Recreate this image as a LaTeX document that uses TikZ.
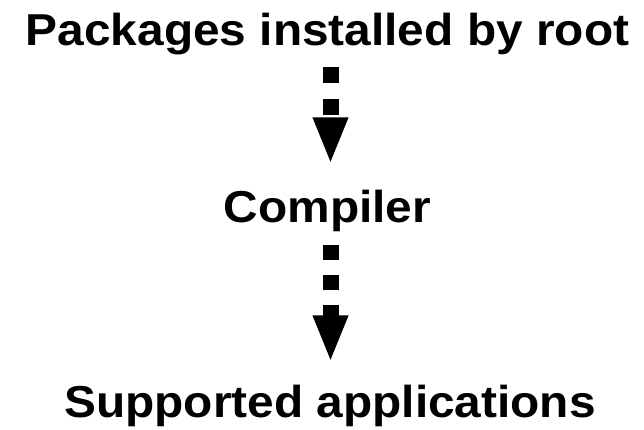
\documentclass[tikz,border=0pt]{standalone}
\usepackage{fontspec}
\setmainfont[FakeStretch=1.07]{Liberation Sans}
\usetikzlibrary{arrows.meta}

\begin{document}
\begin{tikzpicture}[x=1pt,y=1pt,
        label/.style={font=\fontsize{44.7}{50}\selectfont\bfseries, inner sep=0pt},
        flow/.style={-{Triangle[width=32pt,length=47pt]}, line width=16pt, dash pattern=on 16pt off 16pt}]
        \useasboundingbox (0,0) rectangle (644,-429);

        \node[label, anchor=base] (pkg) at (327.5,-45) {Packages installed by root};
        \node[label, anchor=base] (comp) at (327.5,-222) {Compiler};
        \node[label, anchor=base] (apps) at (330,-417) {Supported applications};

        % dashed arrows between the levels
        \draw[flow, shorten <=12.6pt, shorten >=25pt] ([xshift=3pt]pkg.south) -- ([xshift=3pt]comp.north);
        \draw[flow, dash pattern=on 15pt off 15pt, shorten <=13.6pt, shorten >=22pt] ([xshift=3pt]comp.south) -- ([xshift=0.5pt]apps.north);
    \end{tikzpicture}
\end{document}
